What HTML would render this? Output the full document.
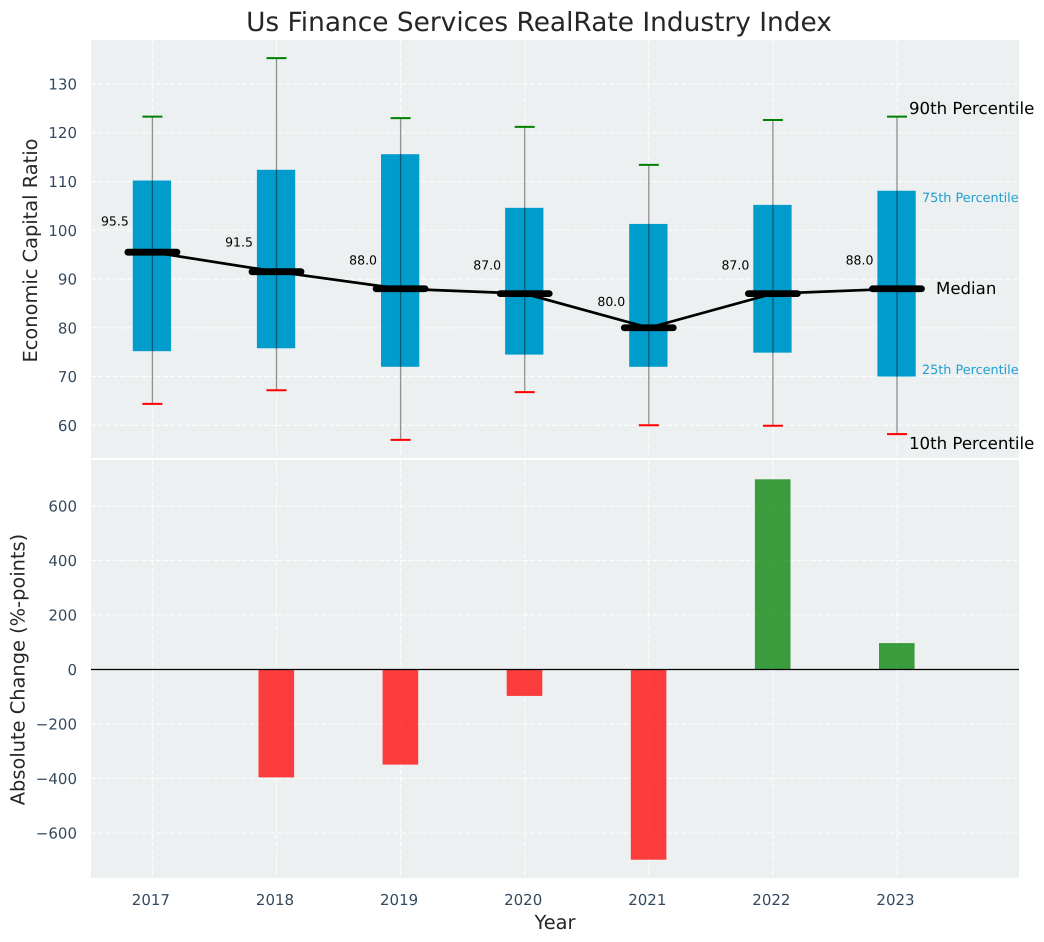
<!DOCTYPE html>
<html>
<head>
<meta charset="utf-8">
<style>
html,body{margin:0;padding:0;background:#fff;}
svg{display:block;font-family:"DejaVu Sans","Liberation Sans",sans-serif;text-rendering:geometricPrecision;}
</style>
</head>
<body>
<svg id="chart" width="1044" height="942" viewBox="0 0 1044 942" xmlns="http://www.w3.org/2000/svg">
  <rect x="91" y="40" width="928" height="418" fill="#ecf0f1"/>
  <rect x="91" y="460" width="928" height="418" fill="#ecf0f1"/>
  <g id="grid"></g>
  <g id="bars"></g>
  <g id="boxes"></g>
  <g id="ticks"></g>
  <text x="539" y="31" text-anchor="middle" font-size="26.4" fill="#262626">Us Finance Services RealRate Industry Index</text>
  <text transform="translate(37 250.5) rotate(-90)" text-anchor="middle" font-size="19.4" fill="#262626">Economic Capital Ratio</text>
  <text transform="translate(24.5 669.5) rotate(-90)" text-anchor="middle" font-size="19.4" fill="#262626">Absolute Change (%-points)</text>
  <text x="555" y="929" text-anchor="middle" font-size="19.4" fill="#262626">Year</text>
  <text x="909" y="114" font-size="16.6" fill="#000">90th Percentile</text>
  <text x="922" y="202" font-size="12.8" fill="#219ed0">75th Percentile</text>
  <text x="936" y="294" font-size="16.6" fill="#000">Median</text>
  <text x="922" y="374" font-size="12.8" fill="#219ed0">25th Percentile</text>
  <text x="909" y="449" font-size="16.6" fill="#000">10th Percentile</text>
</svg>
<script>
const years = [2017, 2018, 2019, 2020, 2021, 2022, 2023];
const p90 = [123.3, 135.3, 123, 121.2, 113.4, 122.6, 123.3];
const p75 = [110.2, 112.4, 115.6, 104.6, 101.3, 105.2, 108.1];
const medians = [95.5, 91.5, 88, 87, 80, 87, 88];
const p25 = [75.2, 75.8, 72, 74.5, 72, 74.9, 70];
const p10 = [64.4, 67.2, 57, 66.8, 60, 59.9, 58.2];
const changes = [0, -396, -349, -97, -698, 698, 97];
const topTicks = [60, 70, 80, 90, 100, 110, 120, 130];
const bottomTicks = [-600, -400, -200, 0, 200, 400, 600];

const NS = 'http://www.w3.org/2000/svg';
const xScale = function (year) { return 152.4 + (year - 2017) * 124.1; };
const yTop = function (v) { return 425.3 - (v - 60) * 4.876; };
const yBottom = function (v) { return 669.5 - v * 0.2725; };

function make(tag, parent, props) {
  const el = document.createElementNS(NS, tag);
  Object.keys(props).forEach(function (k) { el.setAttribute(k, props[k]); });
  parent.appendChild(el);
  return el;
}

const gridG = document.getElementById('grid');
const barsG = document.getElementById('bars');
const boxesG = document.getElementById('boxes');
const ticksG = document.getElementById('ticks');
const gridStyle = { stroke: '#ffffff', 'stroke-width': 1.1, 'stroke-dasharray': '5 2.2', 'stroke-opacity': 0.9, fill: 'none' };

years.forEach(function (year) {
  const x = xScale(year);
  const a = make('line', gridG, Object.assign({ x1: x, x2: x, y1: 40, y2: 458 }, gridStyle));
  
  
  const b = make('line', gridG, Object.assign({ x1: x, x2: x, y1: 460, y2: 878 }, gridStyle));
  
  
  const t = make('text', ticksG, { x: x - 1.5, y: 905, 'text-anchor': 'middle', 'font-size': 15, fill: '#34495e' });
  t.textContent = String(year);
  
  
});

topTicks.forEach(function (v) {
  const y = yTop(v);
  const g = make('line', gridG, Object.assign({ x1: 91, x2: 1019, y1: y, y2: y }, gridStyle));
  
  
  const t = make('text', ticksG, { x: 77, y: y + 5.5, 'text-anchor': 'end', 'font-size': 15, fill: '#34495e' });
  t.textContent = String(v);
  
  
});

bottomTicks.forEach(function (v) {
  const y = yBottom(v);
  if (v !== 0) {
    const g = make('line', gridG, Object.assign({ x1: 91, x2: 1019, y1: y, y2: y }, gridStyle));
    
    
  }
  const t = make('text', ticksG, { x: 77, y: y + 5.5, 'text-anchor': 'end', 'font-size': 15, fill: '#34495e' });
  t.textContent = (v < 0 ? '\u2212' : '') + Math.abs(v);
  
  
});

changes.forEach(function (v, i) {
  if (v === 0) return;
  const x = xScale(years[i]);
  const y0 = yBottom(0);
  const y1 = yBottom(v);
  const r = make('rect', barsG, {
    x: x - 18, width: 35.6, y: Math.min(y0, y1), height: Math.abs(y1 - y0),
    fill: v < 0 ? '#ff0000' : '#008000', 'fill-opacity': 0.75
  });
  
  
});

const zero = make('line', barsG, { x1: 91, x2: 1019, y1: yBottom(0), y2: yBottom(0), stroke: '#000', 'stroke-width': 1.3 });



years.forEach(function (year, i) {
  const x = xScale(year);
  const box = make('rect', boxesG, {
    x: x - 19.6, width: 38.3, y: yTop(p75[i]), height: yTop(p25[i]) - yTop(p75[i]), fill: '#009ccc'
  });
  
  
  const whisker = make('line', boxesG, {
    x1: x, x2: x, y1: yTop(p90[i]), y2: yTop(p10[i]), stroke: '#000', 'stroke-opacity': 0.42, 'stroke-width': 1.3
  });
  
  
  const capHigh = make('line', boxesG, {
    x1: x - 10, x2: x + 10, y1: yTop(p90[i]), y2: yTop(p90[i]), stroke: '#008000', 'stroke-width': 2
  });
  
  
  const capLow = make('line', boxesG, {
    x1: x - 10, x2: x + 10, y1: yTop(p10[i]), y2: yTop(p10[i]), stroke: '#ff0000', 'stroke-width': 2
  });
  
  
});

const linePoints = years.map(function (year, i) { return xScale(year) + ',' + yTop(medians[i]); }).join(' ');
const medianLine = make('polyline', boxesG, { points: linePoints, fill: 'none', stroke: '#000', 'stroke-width': 2.7 });



years.forEach(function (year, i) {
  const x = xScale(year);
  const y = yTop(medians[i]);
  const bar = make('line', boxesG, {
    x1: x - 24.5, x2: x + 24.5, y1: y, y2: y, stroke: '#000', 'stroke-width': 6.8, 'stroke-linecap': 'round'
  });
  
  
  const label = make('text', boxesG, { x: x - 37.5, y: yTop(medians[i] * 1.067) + 4.5, 'text-anchor': 'middle', 'font-size': 12.5, fill: '#000' });
  label.textContent = medians[i].toFixed(1);
  
  
});
</script>
</body>
</html>
